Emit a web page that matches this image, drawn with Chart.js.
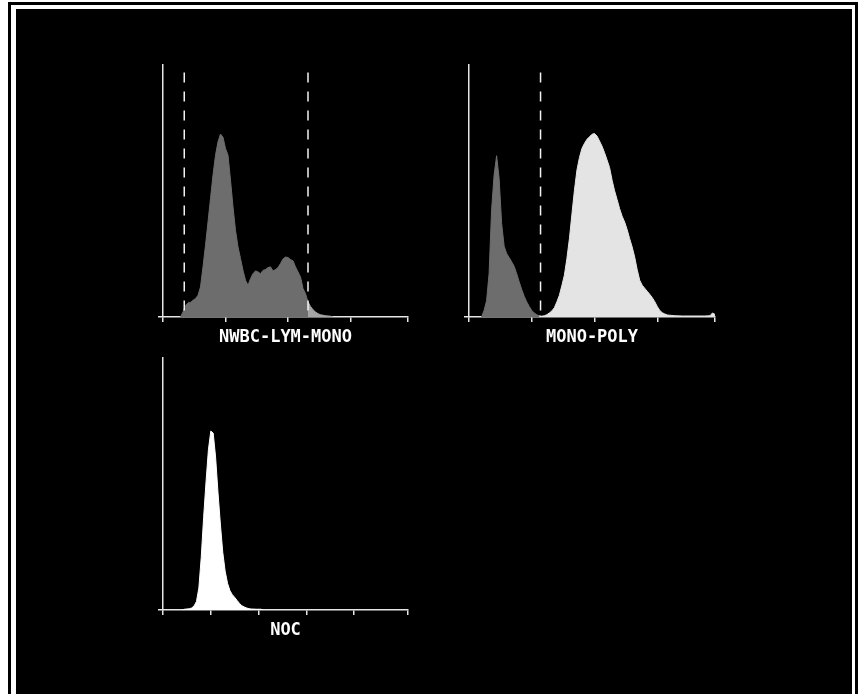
<!DOCTYPE html>
<html><head><meta charset="utf-8">
<script src="https://cdn.jsdelivr.net/npm/chart.js@4/dist/chart.umd.min.js"></script>
<style>
html,body{margin:0;padding:0;background:#fff;width:861px;height:694px;overflow:hidden;}
#f1{position:absolute;left:8px;top:2px;width:850px;height:720px;background:#000;}
#f2{position:absolute;left:11px;top:5px;width:844px;height:720px;background:#fff;}
#f3{position:absolute;left:16px;top:9px;width:836px;height:720px;background:#000;}
canvas{position:absolute;}
</style></head><body>
<div id="f1"></div><div id="f2"></div><div id="f3"></div>
<canvas id="c1" width="285" height="297" style="left:143px;top:55px"></canvas>
<canvas id="c2" width="286" height="297" style="left:449px;top:55px"></canvas>
<canvas id="c3" width="285" height="297" style="left:143px;top:348px"></canvas>
<script>
// ---------- DATA ----------
const nwbcTitle = 'NWBC-LYM-MONO';
const nwbcChannels = [14,16,18,20,22,24,26,28,30,32,34,36,38,40,42,44,46,48,50,52,54,56,58,60,62,64,66,68,70,72,74,76,78,80,82,84,86,88,90,92,94,96,98,100,102,104,106,108,110,112,114,116,118,120,122,124,126,128,130,132,134,136];
const nwbcCounts   = [0,2.0,4.6,5.6,5.8,6.6,7.3,8.6,11.9,19.9,28.5,37.7,47.0,56.3,64.2,69.5,72.6,71.3,66.9,64.2,54.3,43.7,34.4,27.8,23.2,18.5,14.6,12.6,15.2,17.2,18.3,17.9,17.2,18.5,18.8,19.6,19.9,18.3,18.8,19.6,21.2,23.0,23.8,23.6,22.8,22.3,19.9,17.9,15.9,11.3,9.3,6.0,4.2,2.9,2.0,1.3,0.9,0.7,0.5,0.4,0.3,0];
const nwbcGates = [17, 116];
const nwbcTicks = [0, 50, 100, 150, 196];

const monoPolyTitle = 'MONO-POLY';
const monoPolyChannels = [10,12,14,16,18,20,22,24,26,28,30,32,34,36,38,40,42,44,46,48,50,52,54,56,58,60,62,64,66,68,70,72,74,76,78,80,82,84,86,88,90,92,94,96,98,100,102,104,106,108,110,112,114,116,118,120,122,124,126,128,130,132,134,136,138,140,142,144,146,148,150,152,154,156,158,160,164,170,180,188,192,194,196];
const monoPolyCounts   = [0,2.6,6.4,17.2,42.4,56.3,64.0,55.0,37.1,28.1,25.2,23.6,21.9,20.1,17.2,13.9,10.9,8.2,6.0,4.2,2.6,1.6,0.9,0.5,0.3,0.5,0.9,1.6,2.4,3.7,6.0,8.6,12.5,16.6,23.2,31.1,40.8,50.3,58.3,63.3,66.9,68.9,70.5,71.5,72.5,72.8,71.8,69.8,67.8,65.2,62.3,59.3,54.3,50.1,46.6,43.0,40.0,37.7,34.7,31.1,27.8,23.8,18.8,14.6,12.6,11.4,10.2,9.0,7.7,6.1,4.2,2.6,1.7,1.2,0.8,0.7,0.5,0.4,0.4,0.4,0.5,1.6,1.0];
const monoPolyGates = [57];
const monoPolyTicks = [0, 50, 100, 150, 196];

const nocTitle = 'NOC';
const nocChannels = [16,18,20,22,24,26,28,30,32,34,36,38,40,42,44,46,48,50,52,54,56,58,60,62,64,66,68,70,72,74,78,82,84];
const nocCounts   = [0,0.3,0.4,0.5,0.8,1.6,3.4,8.7,20.9,36.8,50.8,63.6,71.0,70.2,60.7,46.7,34.1,22.9,15.4,10.6,7.7,6.1,5.0,3.8,2.6,1.7,1.2,0.8,0.5,0.4,0.3,0.3,0];
const nocTicks = [0, 40, 80, 120, 160, 205];

// ---------- STYLE ----------
const AXIS = '#e6e6e6';
const DARK = '#6d6d6d';
const TAIL = '#a6a6a6';
const LIGHT = '#e4e4e4';
const WHITE = '#ffffff';
const GATE_TOP = 97;

function makeHist(id, o) {
  const pts = o.channels.map((c, i) => ({x: c, y: o.counts[i]}));
  const datasets = [];
  (o.gates || []).forEach(g => {
    datasets.push({
      data: [{x: g, y: GATE_TOP}, {x: g, y: 0}],
      borderColor: '#f2f2f2', borderWidth: 1.5, borderDash: [10, 9],
      pointRadius: 0, fill: false, order: 0
    });
  });
  o.segments.forEach(s => {
    datasets.push({
      data: pts.filter(p => p.x >= s.lo && p.x <= s.hi),
      backgroundColor: s.color, borderColor: s.color, borderWidth: 1,
      pointRadius: 0, fill: 'origin', tension: 0, order: 1
    });
  });
  new Chart(document.getElementById(id), {
    type: 'line',
    data: {datasets},
    options: {
      responsive: false, animation: false,
      layout: {padding: {left: 10, top: 10, right: 20, bottom: 0}, autoPadding: false},
      plugins: {legend: {display: false}, tooltip: {enabled: false}},
      scales: {
        x: {
          type: 'linear', min: 0, max: o.xMax,
          afterBuildTicks: s => { s.ticks = o.ticks.map(v => ({value: v})); },
          afterFit: s => { s.height = 35; },
          ticks: {display: false},
          grid: {drawOnChartArea: false, drawTicks: true, tickLength: 5, color: AXIS, lineWidth: 1.5},
          border: {display: true, color: AXIS, width: 1.5},
          title: {display: true, text: o.title, color: '#ffffff',
                  font: {family: 'DejaVu Sans Mono', size: 17, weight: 'bold'},
                  padding: {top: 4, bottom: 4}}
        },
        y: {
          type: 'linear', min: 0, max: 100,
          afterBuildTicks: s => { s.ticks = [{value: 0}]; },
          afterFit: s => { s.width = 10; },
          ticks: {display: false},
          grid: {drawOnChartArea: false, drawTicks: true, tickLength: 5, color: AXIS, lineWidth: 1.5},
          border: {display: true, color: AXIS, width: 1.5}
        }
      }
    }
  });
}

makeHist('c1', {channels: nwbcChannels, counts: nwbcCounts, gates: nwbcGates, ticks: nwbcTicks, xMax: 196,
  title: nwbcTitle, segments: [{lo: 0, hi: nwbcGates[1], color: DARK}, {lo: nwbcGates[1], hi: 999, color: TAIL}]});
makeHist('c2', {channels: monoPolyChannels, counts: monoPolyCounts, gates: monoPolyGates, ticks: monoPolyTicks, xMax: 196,
  title: monoPolyTitle, segments: [{lo: 0, hi: 56, color: DARK}, {lo: 56, hi: 999, color: LIGHT}]});
makeHist('c3', {channels: nocChannels, counts: nocCounts, gates: [], ticks: nocTicks, xMax: 205,
  title: nocTitle, segments: [{lo: 0, hi: 999, color: WHITE}]});
</script>
</body></html>
